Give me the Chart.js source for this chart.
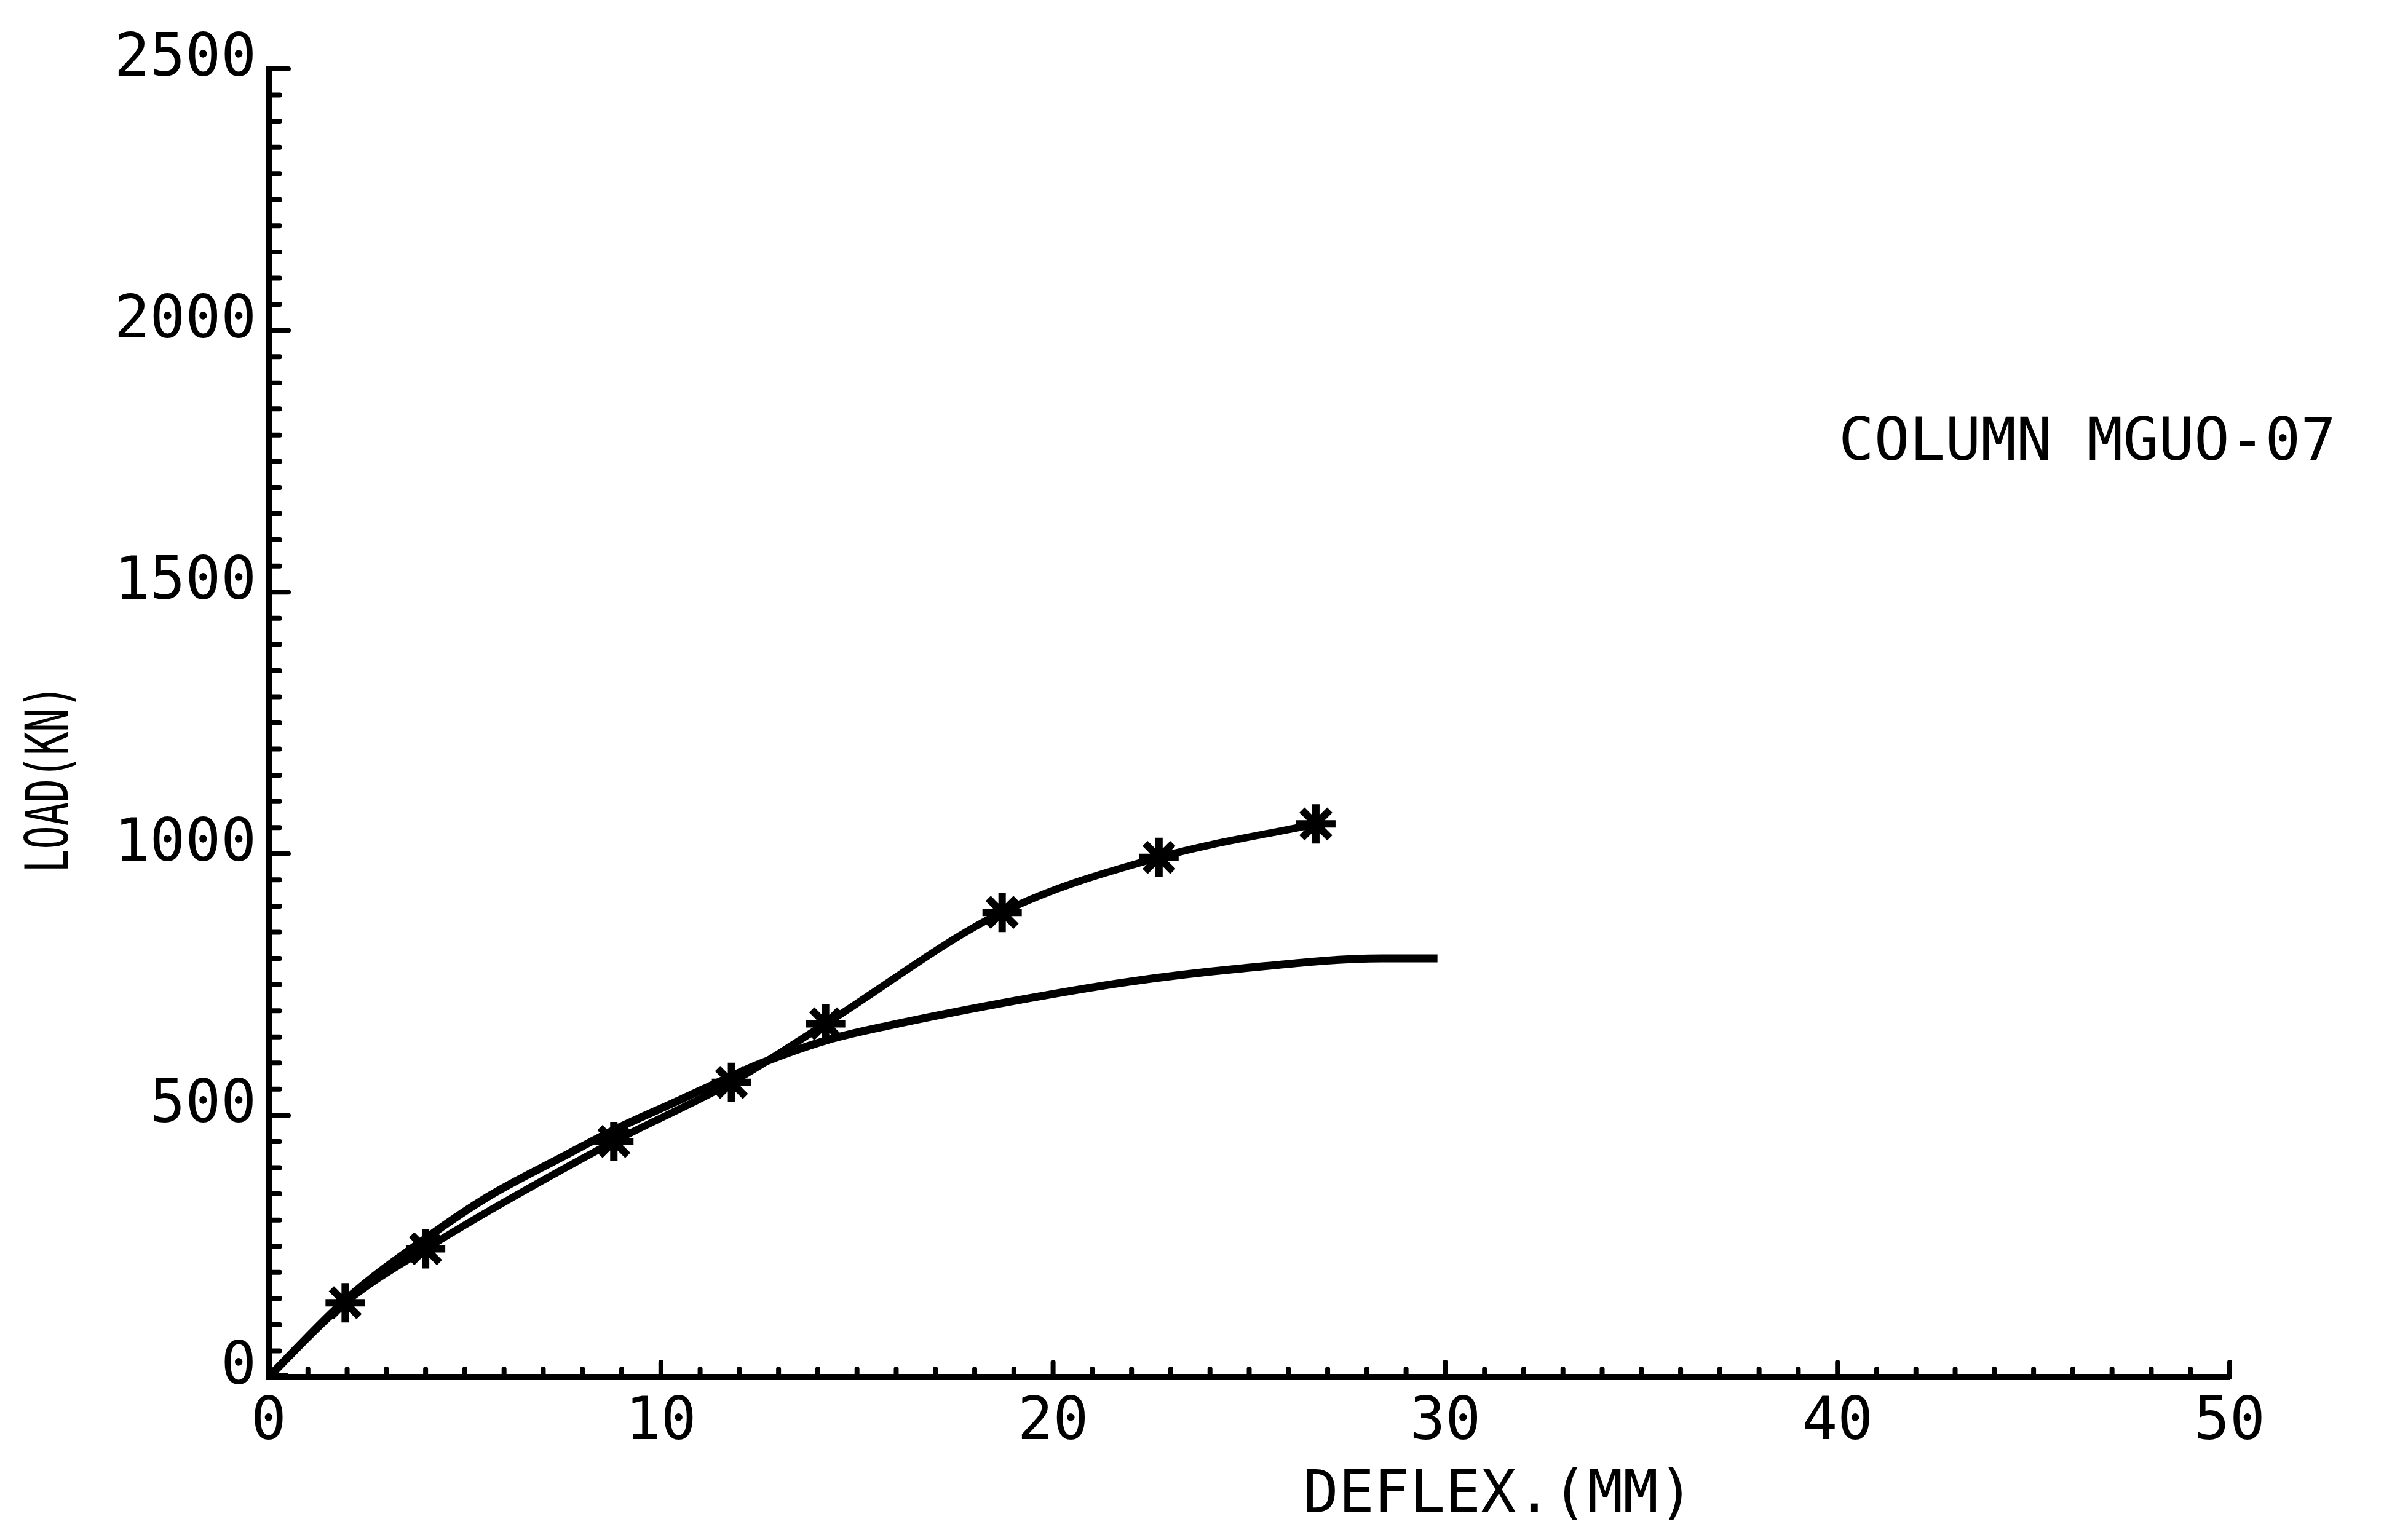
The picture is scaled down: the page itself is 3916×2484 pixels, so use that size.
<!DOCTYPE html>
<html lang="en">
<head>
    <meta charset="UTF-8">
    <title>Column MGUO-07</title>
    <style>
        html, body {
            margin: 0;
            padding: 0;
            background-color: #ffffff;
        }

        #chart-box {
            width: 3916px;
            height: 2484px;
        }
    </style>
</head>
<body>
    <div id="chart-box"><canvas id="loadChart"></canvas></div>

    <script src="https://cdn.jsdelivr.net/npm/chart.js@4"></script>
    <script>
        // test curve (with star markers)
        const testDeflex = [0, 1.95, 4.0, 8.8, 11.8, 14.2, 18.7, 22.7, 26.7];
        const testLoad   = [0, 142, 245, 450, 563, 675, 888, 993, 1057];

        // smooth curve without markers
        const calcDeflex = [0, 2.0, 4.1, 5.6, 7.6, 8.8, 10.5, 11.8, 12.5, 14.2, 15.9, 19.1, 21.9, 24.7, 28.4, 29.8];
        const calcLoad   = [0, 150, 270, 345, 425, 472, 530, 575, 598, 643, 673, 720, 755, 780, 800, 800];

        const xTickValues = [0, 10, 20, 30, 40, 50];
        const yTickValues = [0, 500, 1000, 1500, 2000, 2500];

        const FONT = "'DejaVu Sans Mono', 'Liberation Mono', monospace";

        function points(xs, ys) {
            return xs.map((x, i) => ({ x: x, y: ys[i] }));
        }

        // inward pointing minor / major ticks, placed with the chart's scales
        const plotterTicks = {
            id: 'plotterTicks',
            afterDraw(chart) {
                const ctx = chart.ctx;
                const xs = chart.scales.x;
                const ys = chart.scales.y;
                const area = chart.chartArea;
                ctx.save();
                ctx.strokeStyle = '#000';
                ctx.lineCap = 'round';
                ctx.lineWidth = 8;
                for (let v = xs.min; v <= xs.max; v += 1) {
                    const px = xs.getPixelForValue(v);
                    const len = v % 10 === 0 ? 24 : 13;
                    ctx.beginPath();
                    ctx.moveTo(px, area.bottom);
                    ctx.lineTo(px, area.bottom - len);
                    ctx.stroke();
                }
                for (let v = ys.min; v <= ys.max; v += 50) {
                    const py = ys.getPixelForValue(v);
                    const len = v % 500 === 0 ? 32 : 18;
                    ctx.beginPath();
                    ctx.moveTo(area.left, py);
                    ctx.lineTo(area.left + len, py);
                    ctx.stroke();
                }
                ctx.restore();
            }
        };

        // axis titles and the column label
        const plotterText = {
            id: 'plotterText',
            afterDraw(chart) {
                const ctx = chart.ctx;
                ctx.save();
                ctx.fillStyle = '#000';
                ctx.font = '96px ' + FONT;

                ctx.textAlign = 'center';
                ctx.textBaseline = 'alphabetic';
                ctx.fillText('DEFLEX.(MM)', 2437, 2460);

                ctx.textAlign = 'left';
                ctx.fillText('COLUMN MGUO-07', 2990, 748);

                // the vertical label is squeezed along its length in the original
                ctx.translate(110, 1267);
                ctx.rotate(-Math.PI / 2);
                ctx.scale(0.66, 1);
                ctx.textAlign = 'center';
                ctx.fillText('LOAD(KN)', 0, 0);
                ctx.restore();
            }
        };

        const chart = new Chart(document.getElementById('loadChart').getContext('2d'), {
            type: 'scatter',
            data: {
                datasets: [{
                    label: 'calc',
                    data: points(calcDeflex, calcLoad),
                    showLine: true,
                    borderColor: '#000',
                    borderWidth: 13,
                    pointRadius: 0,
                    cubicInterpolationMode: 'monotone',
                    fill: false
                }, {
                    label: 'test',
                    data: points(testDeflex, testLoad),
                    showLine: true,
                    borderColor: '#000',
                    borderWidth: 12,
                    pointStyle: 'star',
                    pointRadius: 32,
                    pointBorderWidth: 12,
                    pointBorderColor: '#000',
                    pointBackgroundColor: '#000',
                    cubicInterpolationMode: 'monotone',
                    fill: false
                }]
            },
            options: {
                responsive: true,
                maintainAspectRatio: false,
                animation: false,
                layout: {
                    padding: { top: 112, right: 290, left: 0, bottom: 0 }
                },
                plugins: {
                    legend: { display: false },
                    tooltip: { enabled: false }
                },
                scales: {
                    x: {
                        type: 'linear',
                        min: 0,
                        max: 50,
                        afterBuildTicks: (s) => { s.ticks = xTickValues.map(v => ({ value: v })); },
                        afterFit: (s) => { s.height = 244; },
                        grid: { display: false },
                        border: { display: true, color: '#000', width: 10 },
                        ticks: {
                            color: '#000',
                            padding: 10,
                            maxRotation: 0,
                            callback: (v) => String(v),
                            font: { family: FONT, size: 96 }
                        }
                    },
                    y: {
                        type: 'linear',
                        min: 0,
                        max: 2500,
                        afterBuildTicks: (s) => { s.ticks = yTickValues.map(v => ({ value: v })); },
                        afterFit: (s) => { s.width = 437; },
                        grid: { display: false },
                        border: { display: true, color: '#000', width: 10 },
                        ticks: {
                            color: '#000',
                            padding: 12,
                            labelOffset: -14,
                            callback: (v) => String(v),
                            font: { family: FONT, size: 96 }
                        }
                    }
                }
            },
            plugins: [plotterTicks, plotterText]
        });
    </script>
</body>
</html>
